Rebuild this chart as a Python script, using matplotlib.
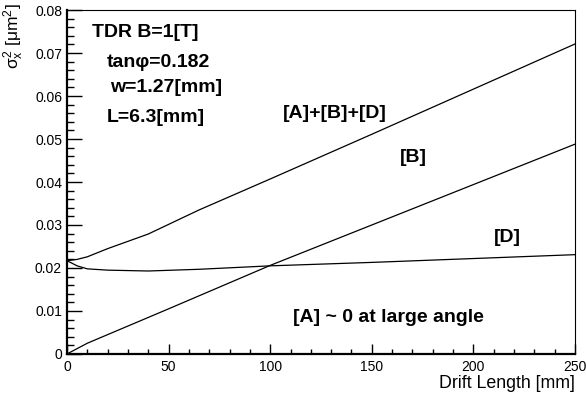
import matplotlib
matplotlib.use("Agg")
import matplotlib.pyplot as plt
from matplotlib.ticker import MultipleLocator, FuncFormatter

plt.rcParams["font.family"] = ["Liberation Sans", "DejaVu Sans"]
plt.rcParams["mathtext.fontset"] = "custom"
plt.rcParams["mathtext.rm"] = "Liberation Sans"
plt.rcParams["mathtext.it"] = "Liberation Sans"

# drift length [mm] and resolution contributions [um^2]
drift_total = [0, 5, 10, 20, 30, 40, 65, 100, 150, 200, 250]
sigma_total = [0.0217, 0.0220, 0.0226, 0.0245, 0.0262, 0.0279, 0.0335, 0.0407, 0.0511, 0.0616, 0.0721]

drift_b = [0, 10, 50, 100, 150, 200, 250]
sigma_b = [0.0, 0.0025, 0.0105, 0.0206, 0.0300, 0.0394, 0.0488]

drift_d = [0, 5, 10, 20, 40, 65, 100, 150, 200, 250]
sigma_d = [0.0217, 0.0205, 0.0198, 0.0195, 0.0193, 0.0197, 0.0205, 0.0213, 0.0222, 0.0231]

fig = plt.figure(figsize=(5.86, 3.96), dpi=100)
ax = fig.add_axes([0.1143, 0.1061, 0.8669, 0.8686])

for x, y in [(drift_total, sigma_total), (drift_b, sigma_b), (drift_d, sigma_d)]:
    ax.plot(x, y, color="black", linewidth=0.9)

ax.set_xlim(0, 250)
ax.set_ylim(0, 0.08)

ax.xaxis.set_major_locator(MultipleLocator(50))
ax.xaxis.set_minor_locator(MultipleLocator(10))
ax.yaxis.set_major_locator(MultipleLocator(0.01))
ax.yaxis.set_minor_locator(MultipleLocator(0.002))
ax.yaxis.set_major_formatter(FuncFormatter(lambda v, p: "0" if abs(v) < 1e-9 else f"{v:.2f}"))

ax.tick_params(axis="both", which="both", direction="in", top=False, right=False,
               labelsize=10, width=1.0)
ax.tick_params(axis="y", which="major", length=11)
ax.tick_params(axis="y", which="minor", length=5)
ax.tick_params(axis="x", which="major", length=7, pad=4)
ax.tick_params(axis="x", which="minor", length=3.6)

ax.spines["left"].set_linewidth(1.6)
ax.spines["bottom"].set_linewidth(1.6)
ax.spines["top"].set_linewidth(0.8)
ax.spines["right"].set_linewidth(0.8)

ax.set_xlabel("Drift Length [mm]", fontsize=12.8, loc="right", labelpad=1)
ax.set_ylabel(r"$\sigma_{x}^{2}$ [$\mu$m$^{2}$]", fontsize=12.5, loc="top")
ax.yaxis.set_label_coords(-0.081, 1.02)

bold = dict(fontsize=14, fontweight="bold", va="center", ha="left")
ax.text(12.3, 0.0747, "TDR B=1[T]", **bold)
ax.text(19.7, 0.0679, "tanφ=0.182", **bold)
ax.text(21.2, 0.0619, "w=1.27[mm]", **bold)
ax.text(19.7, 0.0551, "L=6.3[mm]", **bold)
ax.text(106.3, 0.0560, "[A]+[B]+[D]", **bold)
ax.text(164, 0.0456, "[B]", **bold)
ax.text(210, 0.0270, "[D]", **bold)
ax.text(111, 0.0084, "[A] ~ 0 at large angle", **bold)

fig.savefig("out.png", dpi=100)
